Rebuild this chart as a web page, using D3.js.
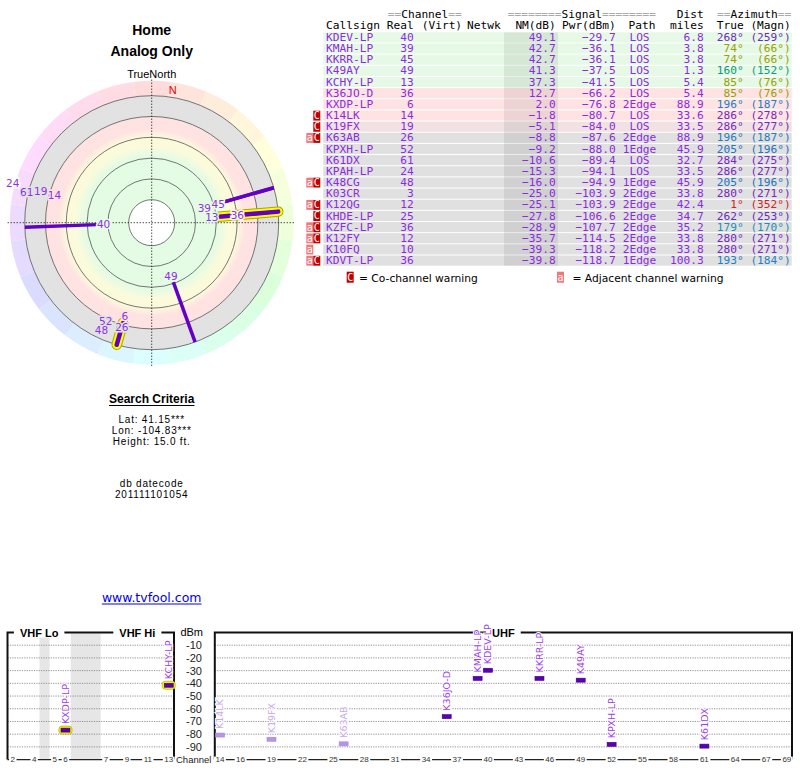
<!DOCTYPE html>
<html>
<head>
<meta charset="utf-8">
<script src="https://cdn.jsdelivr.net/npm/d3@7"></script>
<style>
  body { margin: 0; background: #fff; }
  svg { display: block; }
</style>
</head>
<body>
<svg id="chart" width="800" height="768"></svg>
<script>
const callsigns = ['KDEV-LP','KMAH-LP','KKRR-LP','K49AY','KCHY-LP','K36JO-D','KXDP-LP','K14LK','K19FX','K63AB','KPXH-LP','K61DX','KPAH-LP','K48CG','K03CR','K12QG','KHDE-LP','KZFC-LP','K12FY','K10FQ','KDVT-LP'];
const channels = [40,39,45,49,13,36,6,14,19,26,52,61,24,48,3,12,25,36,12,10,36];
const noiseMargin = [49.1,42.7,42.7,41.3,37.3,12.7,2.0,-1.8,-5.1,-8.8,-9.2,-10.6,-15.3,-16.0,-25.0,-25.1,-27.8,-28.9,-35.7,-39.3,-39.8];
const powerDbm = [-29.7,-36.1,-36.1,-37.5,-41.5,-66.2,-76.8,-80.7,-84.0,-87.6,-88.0,-89.4,-94.1,-94.9,-103.9,-103.9,-106.6,-107.7,-114.5,-118.2,-118.7];
const paths = ['LOS','LOS','LOS','LOS','LOS','LOS','2Edge','LOS','LOS','2Edge','1Edge','LOS','LOS','1Edge','2Edge','2Edge','2Edge','2Edge','2Edge','2Edge','1Edge'];
const distMiles = [6.8,3.8,3.8,1.3,5.4,5.4,88.9,33.6,33.5,88.9,45.9,32.7,33.5,45.9,33.8,42.4,34.7,35.2,33.8,33.8,100.3];
const azTrue = [268,74,74,160,85,85,196,286,286,196,205,284,286,205,280,1,262,179,280,280,193];
const azMagn = [259,66,66,152,76,76,187,278,277,187,196,275,277,196,271,352,253,170,271,271,184];
const warnings = ['','','','','','','','C','C','aC','','','','aC','','aC','C','aC','aC','a','aC'];

// anillos del gráfico polar (NM dB) y ticks del gráfico de canales
const ringLevels = [80, 60, 40, 20, 0, -20];
const dbmTicks = [-10,-20,-30,-40,-50,-60,-70,-80,-90];
const vhfTicks = [2,4,5,6,7,9,11,13];
const uhfTicks = [14,16,19,22,25,28,31,34,37,40,43,46,49,52,55,58,61,64,67,69];
const vhfGaps = [[72,76],[88,174]];

const stations = callsigns.map((c, i) => ({
  call: c, ch: channels[i], nm: noiseMargin[i], pwr: powerDbm[i], path: paths[i],
  dist: distMiles[i], az: azTrue[i], mag: azMagn[i], warn: warnings[i], idx: i
}));

const svg = d3.select('#chart');
svg.append('rect').attr('width', 800).attr('height', 768).attr('fill', '#fff');

const SANS = 'Liberation Sans, Arial, sans-serif';
const VERD = 'DejaVu Sans, Verdana, sans-serif';
const MONO = 'DejaVu Sans Mono, monospace';
const purple = '#8b2be2';
const lineColor = '#6200c4';

// ================= Gráfico polar =================
const cx = 151.7, cy = 222.7;
const rScale = d3.scaleLinear().domain([80, -20]).range([23, 127]);
const bandColor = d3.scaleLinear()
  .domain([-0.5, 0.5, 12, 20, 28, 38])
  .range(['#e2e2e2', '#ffe2e2', '#ffe2e2', '#fbfbdc', '#fbfbdc', '#e4fbe4'])
  .clamp(true);
const rad = a => a * Math.PI / 180;
const px = (r, a) => r * Math.sin(rad(a));
const py = (r, a) => -r * Math.cos(rad(a));

// Títulos
svg.append('text').attr('x', cx).attr('y', 34.5).attr('text-anchor', 'middle')
  .style('font', `bold 14px ${SANS}`).text('Home');
svg.append('text').attr('x', cx).attr('y', 55.5).attr('text-anchor', 'middle')
  .style('font', `bold 14px ${SANS}`).text('Analog Only');
svg.append('text').attr('x', cx).attr('y', 77.5).attr('text-anchor', 'middle')
  .style('font', `11px ${SANS}`).text('TrueNorth');

const polar = svg.append('g').attr('transform', `translate(${cx},${cy})`);

// anillo de colores por azimut
const hueArc = d3.arc().innerRadius(rScale(-20)).outerRadius(142);
polar.selectAll('.hue').data(d3.range(24)).join('path')
  .attr('class', 'hue')
  .attr('d', i => hueArc({ startAngle: rad(i * 15 - 7.5), endAngle: rad(i * 15 + 7.5) }))
  .attr('fill', i => d3.hsl(i * 15, 1, 0.93).formatHex());

// bandas de señal
polar.selectAll('.band').data(d3.range(-20, 80, 0.5)).join('circle')
  .attr('class', 'band')
  .attr('r', d => rScale(d))
  .attr('fill', d => bandColor(d + 0.25));

polar.append('circle').attr('r', rScale(80)).attr('fill', '#fff');

polar.selectAll('.ring').data(ringLevels).join('circle')
  .attr('class', 'ring')
  .attr('r', d => rScale(d))
  .attr('fill', 'none').attr('stroke', '#555').attr('stroke-width', 0.8);

// cruz punteada
polar.append('line').attr('x1', -144).attr('x2', 144).attr('y1', 0).attr('y2', 0)
  .attr('stroke', '#000').attr('stroke-dasharray', '1,2');
polar.append('line').attr('y1', -143).attr('y2', 144).attr('x1', 0).attr('x2', 0)
  .attr('stroke', '#000').attr('stroke-dasharray', '1,2');

// norte magnético
const decl = azTrue[0] - azMagn[0];
polar.append('text').attr('x', px(134, decl)).attr('y', py(134, decl))
  .attr('text-anchor', 'middle').attr('dominant-baseline', 'central')
  .style('font', `11px ${SANS}`).attr('fill', '#e00000').text('N');

const polarStations = stations.filter(s => s.nm > -20);
const lineStations = polarStations.filter(s => s.nm >= 0);
const isVhf = s => s.ch < 14;

// halo amarillo para VHF
polar.selectAll('.halo-out').data(lineStations.filter(isVhf)).join('line')
  .attr('x1', d => px(rScale(d.nm), d.az)).attr('y1', d => py(rScale(d.nm), d.az))
  .attr('x2', d => px(rScale(-20), d.az)).attr('y2', d => py(rScale(-20), d.az))
  .attr('stroke', '#a8a800').attr('stroke-width', 10.5).attr('stroke-linecap', 'round');
polar.selectAll('.halo-in').data(lineStations.filter(isVhf)).join('line')
  .attr('x1', d => px(rScale(d.nm), d.az)).attr('y1', d => py(rScale(d.nm), d.az))
  .attr('x2', d => px(rScale(-20), d.az)).attr('y2', d => py(rScale(-20), d.az))
  .attr('stroke', '#ffff00').attr('stroke-width', 8.5).attr('stroke-linecap', 'round');

polar.selectAll('.sta').data(lineStations).join('line')
  .attr('class', 'sta')
  .attr('x1', d => px(rScale(d.nm), d.az)).attr('y1', d => py(rScale(d.nm), d.az))
  .attr('x2', d => px(rScale(-20), d.az)).attr('y2', d => py(rScale(-20), d.az))
  .attr('stroke', lineColor)
  .attr('stroke-width', d => isVhf(d) ? 4.5 : 3.5)
  .attr('stroke-linecap', d => isVhf(d) ? 'round' : 'butt');

// etiquetas con un desplazamiento simple para evitar solapes
const placed = [];
polarStations.forEach(s => {
  const w = 6.6 * String(s.ch).length + 0.5;
  let r = rScale(s.nm) - 7;
  let x, y;
  for (let k = 0; k < 80; k++) {
    x = px(r, s.az); y = py(r, s.az);
    const hit = placed.some(p => Math.abs(p.x - x) < (p.w + w) / 2 && Math.abs(p.y - y) < 9);
    if (!hit) break;
    r += 0.5;
  }
  placed.push({ x, y, w, r, s });
});
polar.selectAll('.plab').data(placed).join('text')
  .attr('x', d => d.x).attr('y', d => d.y)
  .attr('text-anchor', 'middle').attr('dominant-baseline', 'central')
  .style('font', `10.5px ${VERD}`).attr('fill', '#9030e8')
  .attr('stroke', d => d.r > 142 ? '#fff' : bandColor(rScale.invert(Math.min(d.r, 127))))
  .attr('stroke-width', 3).attr('paint-order', 'stroke')
  .text(d => d.s.ch);

// ================= Criterios de búsqueda =================
const sc = svg.append('text').attr('x', cx).attr('y', 402.5).attr('text-anchor', 'middle')
  .style('font', `bold 12px ${SANS}`).text('Search Criteria');
const scW = sc.node().getComputedTextLength();
svg.append('line').attr('x1', cx - scW / 2).attr('x2', cx + scW / 2)
  .attr('y1', 405.5).attr('y2', 405.5).attr('stroke', '#000').attr('stroke-width', 1);

const infoLines = [['Lat: 41.15***', 423], ['Lon: -104.83***', 434], ['Height: 15.0 ft.', 445],
                   ['db datecode', 486.5], ['201111101054', 497.5]];
svg.selectAll('.info').data(infoLines).join('text')
  .attr('x', cx).attr('y', d => d[1]).attr('text-anchor', 'middle')
  .style('font', `10px ${SANS}`).style('letter-spacing', '0.8px').text(d => d[0]);

const link = svg.append('text').attr('x', cx).attr('y', 602).attr('text-anchor', 'middle')
  .style('font', `12.5px ${VERD}`).attr('fill', '#0000ee').text('www.tvfool.com');
const lw = link.node().getComputedTextLength();
svg.append('line').attr('x1', cx - lw / 2).attr('x2', cx + lw / 2)
  .attr('y1', 604).attr('y2', 604).attr('stroke', '#0000ee').attr('stroke-width', 1);

// ================= Tabla =================
const tX0 = 323.3, tX1 = 791.7, rowTop = 32.3, rowH = 11.16;
const rowColor = d3.scaleLinear()
  .domain([-8.5, -2, 14, 20, 28, 34])
  .range(['#e0e0e0', '#ffe3e3', '#ffe3e3', '#fafadc', '#fafadc', '#e6f9e6'])
  .clamp(true);
const azColor = d3.scaleLinear()
  .domain([0, 60, 95, 120, 160, 180, 200, 240, 262, 300, 330, 360])
  .range(['#d42020', '#a0a000', '#90a000', '#40a040', '#109a80', '#1a90b8', '#2078c0', '#4050c8', '#6a2cc0', '#8424c0', '#b01890', '#d42020']);

const table = svg.append('g');
table.selectAll('.row').data(stations).join('rect')
  .attr('x', tX0).attr('width', tX1 - tX0)
  .attr('y', d => rowTop + d.idx * rowH).attr('height', rowH - 1)
  .attr('fill', d => rowColor(d.nm));
table.append('rect').attr('x', 504).attr('width', 54)
  .attr('y', rowTop).attr('height', rowH * stations.length - 1)
  .attr('fill', '#000').attr('opacity', 0.07);

const fmt = d3.format('.1f');
const cols = [
  { x: 326, anchor: 'start', f: d => d.call },
  { x: 413.8, anchor: 'end', f: d => d.ch },
  { x: 555.8, anchor: 'end', f: d => fmt(d.nm) },
  { x: 615.8, anchor: 'end', f: d => fmt(d.pwr) },
  { x: 639.5, anchor: 'middle', f: d => d.path },
  { x: 703.8, anchor: 'end', f: d => fmt(d.dist) },
  { x: 743.8, anchor: 'end', f: d => d.az + '°', c: d => azColor(d.az) },
  { x: 790.8, anchor: 'end', f: d => '(' + d.mag + '°)', c: d => azColor(d.az) }
];
cols.forEach((col, ci) => {
  table.selectAll('.c' + ci).data(stations).join('text')
    .attr('class', 'c' + ci)
    .attr('x', col.x).attr('y', d => rowTop + d.idx * rowH + 8.7)
    .attr('text-anchor', col.anchor)
    .style('font', `11.2px ${MONO}`)
    .attr('fill', d => col.c ? col.c(d) : purple)
    .text(col.f);
});

// cabecera
const hdr = (x, y, parts, anchor) => {
  const t = table.append('text').attr('x', x).attr('y', y).attr('text-anchor', anchor || 'start')
    .style('font', `11.2px ${MONO}`).attr('xml:space', 'preserve');
  parts.forEach(p => t.append('tspan').attr('fill', p[1] ? '#aaa' : '#000').text(p[0]));
};
hdr(387.7, 17.5, [['==', 1], ['Channel'], ['==', 1]]);
hdr(507.7, 17.5, [['========', 1], ['Signal'], ['========', 1]]);
hdr(703.8, 17.5, [['Dist']], 'end');
hdr(717, 17.5, [['==', 1], ['Azimuth'], ['==', 1]]);
hdr(326, 28.5, [['Callsign']]);
hdr(413.8, 28.5, [['Real']], 'end');
hdr(421.7, 28.5, [['(Virt)']]);
hdr(467, 28.5, [['Netwk']]);
hdr(555.8, 28.5, [['NM(dB)']], 'end');
hdr(615.8, 28.5, [['Pwr(dBm)']], 'end');
hdr(642, 28.5, [['Path']], 'middle');
hdr(703.8, 28.5, [['miles']], 'end');
hdr(743.8, 28.5, [['True']], 'end');
hdr(790.8, 28.5, [['(Magn)']], 'end');

// iconos de aviso
const warnBox = (g, x, y, h, kind) => {
  g.append('rect').attr('x', x).attr('y', y).attr('width', 7).attr('height', h)
    .attr('fill', kind === 'C' ? '#c00000' : '#f07878');
  g.append('text').attr('x', x + 3.5).attr('y', y + h / 2 + 3.3).attr('text-anchor', 'middle')
    .style('font', `10px ${MONO}`).attr('fill', '#fff').text(kind);
};
stations.forEach(s => {
  const y = rowTop + s.idx * rowH + 0.3;
  if (s.warn.includes('a')) warnBox(table, 306.3, y, rowH - 1.3, 'a');
  if (s.warn.includes('C')) warnBox(table, 313.3, y, rowH - 1.3, 'C');
});
warnBox(table, 346.7, 271.7, 11, 'C');
table.append('text').attr('x', 359).attr('y', 281.5)
  .style('font', `10.7px ${VERD}`).text('= Co-channel warning');
warnBox(table, 557, 271.7, 11, 'a');
table.append('text').attr('x', 572.5).attr('y', 281.5)
  .style('font', `10.7px ${VERD}`).text('= Adjacent channel warning');

// ================= Gráfico de canales =================
const yTop = 632.5, yBot = 759.6;
const yScale = d3.scaleLinear().domain([0, -100]).range([yTop, yBot]);
const xV = d3.scaleLinear().domain([54, 72, 76, 88, 174, 216]).range([7.5, 39.5, 49.5, 70.8, 100.7, 174]);
const xU = d3.scaleLinear().domain([13.5, 69.5]).range([214.8, 792]);
const vhfFreq = ch => ch <= 4 ? 57 + 6 * (ch - 2) : ch <= 6 ? 79 + 6 * (ch - 5) : 177 + 6 * (ch - 7);
const chanX = ch => ch < 14 ? xV(vhfFreq(ch)) : xU(ch);

const bottom = svg.append('g');

// huecos VHF
bottom.selectAll('.gap').data(vhfGaps).join('rect')
  .attr('x', d => xV(d[0])).attr('width', d => xV(d[1]) - xV(d[0]))
  .attr('y', yTop + 1).attr('height', yBot - yTop - 1)
  .attr('fill', '#e6e6e6');

const boxes = [
  { x0: xV.range()[0], x1: xV.range()[5], labels: [['VHF Lo', (xV(54) + xV(88)) / 2], ['VHF Hi', (xV(174) + xV(216)) / 2]], ticks: vhfTicks },
  { x0: xU.range()[0], x1: xU.range()[1], labels: [['UHF', (xU.range()[0] + xU.range()[1]) / 2]], ticks: uhfTicks }
];

boxes.forEach(b => {
  // rejilla
  bottom.selectAll(null).data(dbmTicks).join('line')
    .attr('x1', b.x0).attr('x2', b.x1)
    .attr('y1', d => yScale(d)).attr('y2', d => yScale(d))
    .attr('stroke', '#777').attr('stroke-width', 0.8).attr('stroke-dasharray', '1.2,1.2');
  // marco
  bottom.append('path')
    .attr('d', `M${b.x0},${yBot}V${yTop}H${b.x1}V${yBot}`)
    .attr('fill', 'none').attr('stroke', '#111').attr('stroke-width', 2);
  // eje inferior
  bottom.append('line').attr('x1', b.x0).attr('x2', b.x1).attr('y1', yBot).attr('y2', yBot)
    .attr('stroke', '#222').attr('stroke-width', 1.3);
  b.ticks.forEach(t => {
    const x = chanX(t);
    const tt = bottom.append('text').attr('x', x).attr('y', yBot + 2.8).attr('text-anchor', 'middle')
      .style('font', `8px ${SANS}`).attr('fill', '#333').text(t);
    const w = tt.node().getComputedTextLength();
    bottom.insert('rect', () => tt.node()).attr('x', x - w / 2 - 1.5).attr('width', w + 3)
      .attr('y', yBot - 3).attr('height', 6).attr('fill', '#fff');
  });
  // títulos de banda sobre el marco
  b.labels.forEach(l => {
    const t = bottom.append('text').attr('x', l[1]).attr('y', yTop + 4).attr('text-anchor', 'middle')
      .style('font', `bold 11px ${SANS}`).attr('fill', '#000').text(l[0]);
    const w = t.node().getComputedTextLength();
    bottom.insert('rect', () => t.node()).attr('x', l[1] - w / 2 - 6).attr('width', w + 12)
      .attr('y', yTop - 6).attr('height', 11).attr('fill', '#fff');
  });
});

// eje dBm
bottom.append('text').attr('x', 203).attr('y', 636).attr('text-anchor', 'end')
  .style('font', `11px ${SANS}`).text('dBm');
bottom.selectAll('.dbm').data(dbmTicks).join('text')
  .attr('x', 202).attr('y', d => yScale(d) + 4).attr('text-anchor', 'end')
  .style('font', `11px ${SANS}`).attr('fill', '#222').text(d => d);
bottom.append('text').attr('x', 176).attr('y', 762.8)
  .style('font', `9.5px ${SANS}`).attr('fill', '#222').text('Channel');

// estaciones
const shown = stations.filter(s => s.pwr >= -90);
const weak = s => s.warn.includes('C');
bottom.selectAll('.hl').data(shown.filter(isVhf)).join('rect')
  .attr('x', d => chanX(d.ch) - 6.5).attr('y', d => yScale(d.pwr) - 4)
  .attr('width', 13).attr('height', 8).attr('rx', 3)
  .attr('fill', '#ffff00').attr('stroke', '#a8a800').attr('stroke-width', 0.7);
bottom.selectAll('.bar').data(shown).join('rect')
  .attr('x', d => chanX(d.ch) - 4.5).attr('y', d => yScale(d.pwr) - 2)
  .attr('width', 9).attr('height', 4)
  .attr('fill', d => weak(d) ? '#b795e6' : '#5c00b8')
  .attr('stroke', d => weak(d) ? '#a585dc' : '#3a0078').attr('stroke-width', 0.6);
bottom.selectAll('.blab').data(shown).join('text')
  .attr('transform', d => `translate(${chanX(d.ch) + 3.4},${yScale(d.pwr) - 6}) rotate(-90)`)
  .style('font', `9.5px ${VERD}`)
  .attr('fill', d => weak(d) ? '#c9a6f2' : '#9a3cf0')
  .attr('stroke', '#fff').attr('stroke-width', 2).attr('paint-order', 'stroke')
  .text(d => d.call);
</script>
</body>
</html>
